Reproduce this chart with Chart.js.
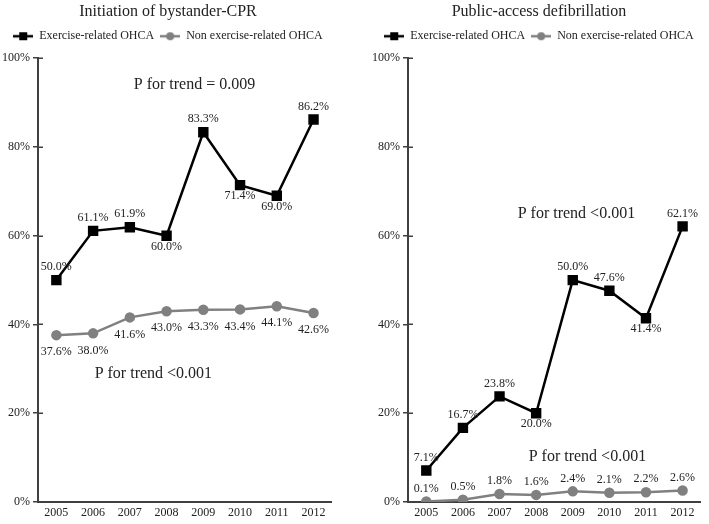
<!DOCTYPE html>
<html>
<head>
<meta charset="utf-8">
<script src="https://cdn.jsdelivr.net/npm/chart.js@4/dist/chart.umd.min.js"></script>
<style>
  body { margin: 0; background: #fff; }
  #wrap { position: relative; width: 709px; height: 524px; }
  .box { position: absolute; top: 0; height: 524px; }
  #left { left: 0; width: 340px; }
  #right { left: 373px; width: 336px; }
</style>
</head>
<body>
<div id="wrap">
  <div class="box" id="left"><canvas id="cpr"></canvas></div>
  <div class="box" id="right"><canvas id="pad"></canvas></div>
</div>
<script>
const years = ['2005', '2006', '2007', '2008', '2009', '2010', '2011', '2012'];
const yTicks = [0, 20, 40, 60, 80, 100];

// Initiation of bystander-CPR (%)
const cprExercise = [50.0, 61.1, 61.9, 60.0, 83.3, 71.4, 69.0, 86.2];
const cprNonExercise = [37.6, 38.0, 41.6, 43.0, 43.3, 43.4, 44.1, 42.6];

// Public-access defibrillation (%)
const padExercise = [7.1, 16.7, 23.8, 20.0, 50.0, 47.6, 41.4, 62.1];
const padNonExercise = [0.1, 0.5, 1.8, 1.6, 2.4, 2.1, 2.2, 2.6];

// label placement: a = above, b = below
const cprExercisePos = ['a', 'a', 'a', 'b', 'a', 'b', 'b', 'a'];
const cprNonPos = ['b', 'b', 'b', 'b', 'b', 'b', 'b', 'b'];
const padExercisePos = ['a', 'a', 'a', 'b', 'a', 'a', 'b', 'a'];
const padNonPos = ['a', 'a', 'a', 'a', 'a', 'a', 'a', 'a'];

const cprNotes = ['P for trend = 0.009', 'P for trend <0.001'];
const padNotes = ['P for trend <0.001', 'P for trend <0.001'];
// where the notes sit, in [category index, percent]
const cprNoteAt = [[3.76, 93.9], [2.64, 29.0]];
const padNoteAt = [[4.1, 65.0], [4.4, 10.1]];

const serif = '"Liberation Serif", "Times New Roman", serif';
const textColor = '#222';
const axisColor = '#404040';

function legendIcon(color, shape) {
  const c = document.createElement('canvas');
  c.width = 20; c.height = 10;
  const g = c.getContext('2d');
  g.strokeStyle = color; g.lineWidth = 2.5;
  g.beginPath(); g.moveTo(0, 5); g.lineTo(20, 5); g.stroke();
  g.fillStyle = color;
  if (shape === 'rect') g.fillRect(6, 1, 8, 8);
  else { g.beginPath(); g.arc(10, 5, 4, 0, Math.PI * 2); g.fill(); }
  return c;
}

const pointLabels = {
  id: 'pointLabels',
  afterDatasetsDraw(chart) {
    const ctx = chart.ctx;
    ctx.save();
    ctx.font = '12px ' + serif;
    ctx.fillStyle = textColor;
    ctx.textAlign = 'center';
    ctx.textBaseline = 'middle';
    chart.data.datasets.forEach((ds, i) => {
      const meta = chart.getDatasetMeta(i);
      meta.data.forEach((pt, j) => {
        const below = ds.labelPos[j] === 'b';
        const dy = below ? ds.belowGap : -13;
        ctx.fillText(ds.data[j].toFixed(1) + '%', pt.x, pt.y + dy);
      });
    });
    ctx.restore();
  }
};

const trendNotes = {
  id: 'trendNotes',
  afterDatasetsDraw(chart, args, opts) {
    const ctx = chart.ctx;
    const x = chart.scales.x, y = chart.scales.y;
    ctx.save();
    ctx.font = '16px ' + serif;
    ctx.fillStyle = textColor;
    ctx.textAlign = 'center';
    ctx.textBaseline = 'middle';
    opts.texts.forEach((t, i) => {
      const at = opts.at[i];
      ctx.fillText(t, x.getPixelForValue(at[0]), y.getPixelForValue(at[1]));
    });
    ctx.restore();
  }
};

// tick marks also poke into the plot, like a "+"
const innerTicks = {
  id: 'innerTicks',
  afterDraw(chart) {
    const y = chart.scales.y, ctx = chart.ctx;
    ctx.save();
    ctx.strokeStyle = axisColor;
    ctx.lineWidth = 1.5;
    y.ticks.forEach(t => {
      const py = Math.round(y.getPixelForValue(t.value)) + 0.25;
      ctx.beginPath();
      ctx.moveTo(y.right, py);
      ctx.lineTo(y.right + 5, py);
      ctx.stroke();
    });
    ctx.restore();
  }
};

function makeChart(id, title, exVals, nonVals, exPos, nonPos, notes, noteAt, axisWidth, nonGap) {
  return new Chart(document.getElementById(id), {
    type: 'line',
    data: {
      labels: years,
      datasets: [{
        label: 'Exercise-related OHCA',
        data: exVals,
        labelPos: exPos,
        belowGap: 11,
        borderColor: '#000',
        backgroundColor: '#000',
        borderWidth: 2.5,
        pointStyle: 'rect',
        pointRadius: 5.6,
        pointHoverRadius: 5.6,
        tension: 0
      }, {
        label: 'Non exercise-related OHCA',
        data: nonVals,
        labelPos: nonPos,
        belowGap: nonGap,
        borderColor: '#808080',
        backgroundColor: '#808080',
        borderWidth: 2.5,
        pointStyle: 'circle',
        pointRadius: 4,
        pointHoverRadius: 4,
        tension: 0
      }]
    },
    options: {
      responsive: true,
      maintainAspectRatio: false,
      animation: false,
      layout: { padding: { top: 0, right: 4, bottom: 0, left: 0 } },
      plugins: {
        title: {
          display: true,
          text: title,
          color: textColor,
          font: { family: serif, size: 16, weight: 'normal' },
          padding: { top: 2, bottom: 3 }
        },
        // empty spacer between legend and plot
        subtitle: {
          display: true,
          text: '',
          weight: 900,
          font: { size: 5 },
          padding: { top: 0, bottom: 0 }
        },
        legend: {
          position: 'top',
          labels: {
            usePointStyle: true,
            pointStyleWidth: 20,
            boxHeight: 12,
            padding: 6,
            color: textColor,
            font: { family: serif, size: 12 },
            generateLabels(chart) {
              return chart.data.datasets.map((ds, i) => ({
                text: ds.label,
                pointStyle: legendIcon(ds.borderColor, ds.pointStyle),
                fontColor: textColor,
                datasetIndex: i,
                lineWidth: 0,
                hidden: false
              }));
            }
          }
        },
        tooltip: { enabled: false },
        trendNotes: { texts: notes, at: noteAt }
      },
      scales: {
        x: {
          offset: true,
          grid: { display: false, drawTicks: false },
          border: { display: true, color: axisColor, width: 2 },
          ticks: { color: textColor, font: { family: serif, size: 12 }, padding: 4 },
          afterFit(s) { s.height = 22; }
        },
        y: {
          min: 0,
          max: 100,
          afterBuildTicks(s) { s.ticks = yTicks.map(v => ({ value: v })); },
          grid: { drawOnChartArea: false, color: axisColor, lineWidth: 1.5, tickLength: 5 },
          border: { display: true, color: axisColor, width: 2 },
          ticks: { color: textColor, font: { family: serif, size: 12 }, padding: 3, callback: v => v + '%' },
          afterFit(s) { s.width = axisWidth; }
        }
      }
    },
    plugins: [pointLabels, trendNotes, innerTicks]
  });
}

makeChart('cpr', 'Initiation of bystander-CPR', cprExercise, cprNonExercise,
  cprExercisePos, cprNonPos, cprNotes, cprNoteAt, 38, 17);
makeChart('pad', 'Public-access defibrillation', padExercise, padNonExercise,
  padExercisePos, padNonPos, padNotes, padNoteAt, 35, 12);
</script>
</body>
</html>
